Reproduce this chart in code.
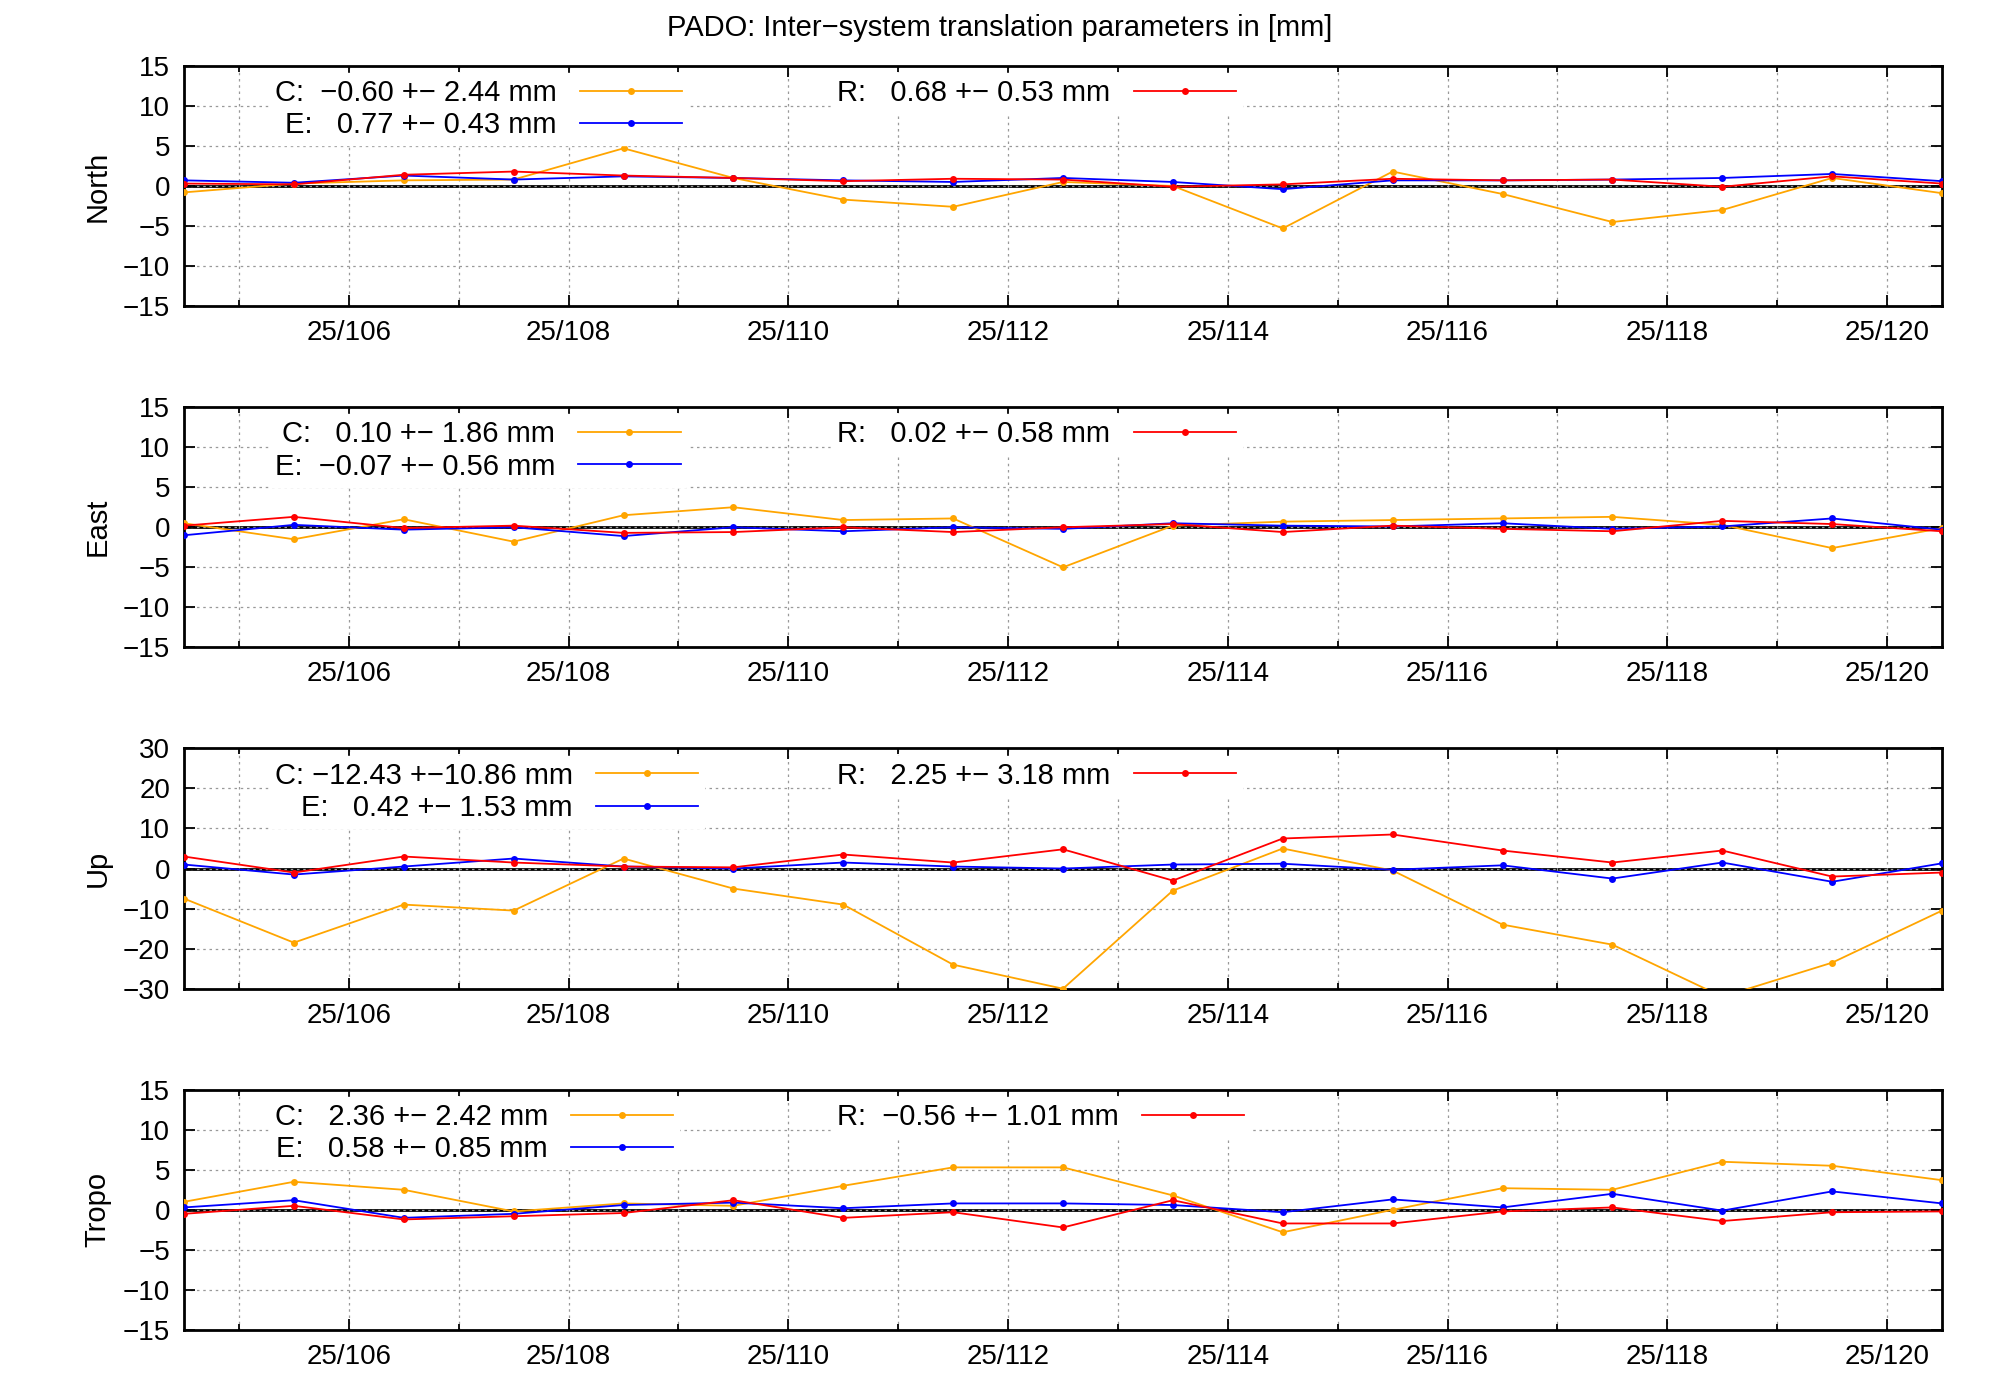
import numpy as np, pandas as pd, seaborn as sns, matplotlib
matplotlib.use("Agg")
import matplotlib.pyplot as plt
from matplotlib.lines import Line2D
from matplotlib.ticker import MultipleLocator

days = [104.5 + i for i in range(17)]
tick_days = [106, 108, 110, 112, 114, 116, 118, 120]
tick_labels = ["25/%d" % d for d in tick_days]

north_C = [-0.8, 0.3, 0.7, 0.8, 4.7, 1.0, -1.7, -2.6, 0.5, 0.0, -5.3, 1.8, -1.0, -4.5, -3.0, 1.0, -0.9]
north_E = [0.7, 0.4, 1.3, 0.8, 1.2, 1.0, 0.7, 0.5, 1.0, 0.5, -0.4, 0.7, 0.7, 0.8, 1.0, 1.5, 0.6]
north_R = [0.3, 0.2, 1.4, 1.8, 1.3, 1.0, 0.6, 0.9, 0.8, -0.1, 0.2, 0.9, 0.7, 0.8, -0.1, 1.2, 0.3]
east_C = [0.5, -1.5, 1.0, -1.8, 1.5, 2.5, 0.9, 1.1, -5.0, 0.2, 0.7, 0.9, 1.1, 1.3, 0.3, -2.6, -0.1]
east_E = [-1.0, 0.3, -0.3, 0.0, -1.1, 0.0, -0.5, 0.0, -0.2, 0.5, 0.2, 0.1, 0.5, -0.2, 0.1, 1.1, -0.3]
east_R = [0.2, 1.3, -0.1, 0.2, -0.7, -0.6, 0.0, -0.6, 0.0, 0.4, -0.6, 0.2, -0.2, -0.5, 0.8, 0.4, -0.5]
up_C = [-7.5, -18.5, -9.0, -10.5, 2.5, -5.0, -9.0, -24.0, -30.0, -5.5, 5.0, -0.5, -14.0, -19.0, -32.0, -23.5, -10.5]
up_E = [1.0, -1.5, 0.5, 2.5, 0.5, 0.0, 1.5, 0.5, 0.0, 1.0, 1.2, -0.3, 0.8, -2.5, 1.5, -3.3, 1.3]
up_R = [3.0, -1.0, 3.0, 1.5, 0.5, 0.3, 3.5, 1.5, 4.8, -3.0, 7.5, 8.5, 4.5, 1.5, 4.5, -2.0, -1.0]
tropo_C = [1.0, 3.5, 2.5, -0.2, 0.8, 0.5, 3.0, 5.3, 5.3, 1.8, -2.8, 0.0, 2.7, 2.5, 6.0, 5.5, 3.7]
tropo_E = [0.3, 1.2, -1.0, -0.5, 0.6, 0.9, 0.2, 0.8, 0.8, 0.6, -0.3, 1.3, 0.3, 2.0, -0.1, 2.3, 0.8]
tropo_R = [-0.5, 0.5, -1.2, -0.8, -0.4, 1.2, -1.0, -0.3, -2.2, 1.2, -1.7, -1.7, -0.2, 0.3, -1.4, -0.3, -0.2]

panels = [
    ("North", north_C, north_E, north_R, 15, 5, ["C:  \u22120.60 +\u2212 2.44 mm", "E:   0.77 +\u2212 0.43 mm", "R:   0.68 +\u2212 0.53 mm"]),
    ("East", east_C, east_E, east_R, 15, 5, ["C:   0.10 +\u2212 1.86 mm", "E:  \u22120.07 +\u2212 0.56 mm", "R:   0.02 +\u2212 0.58 mm"]),
    ("Up", up_C, up_E, up_R, 30, 10, ["C: \u221212.43 +\u221210.86 mm", "E:   0.42 +\u2212 1.53 mm", "R:   2.25 +\u2212 3.18 mm"]),
    ("Tropo", tropo_C, tropo_E, tropo_R, 15, 5, ["C:   2.36 +\u2212 2.42 mm", "E:   0.58 +\u2212 0.85 mm", "R:  \u22120.56 +\u2212 1.01 mm"]),
]
colors = {"C": "#ffa500", "E": "#0000ff", "R": "#ff0000"}

plt.rcParams["font.family"] = "Liberation Sans"
plt.rcParams["font.size"] = 20
fig, axes = plt.subplots(4, 1, figsize=(20, 14), dpi=100)
fig.subplots_adjust(left=0.092, right=0.971, top=0.953, bottom=0.05, hspace=0.42)
fig.suptitle("PADO: Inter\u2212system translation parameters in [mm]", fontsize=21, y=0.99)

for ax, (name, c, e, r, lim, step, labels) in zip(axes, panels):
    df = pd.DataFrame({"day": days * 3, "val": c + e + r, "sys": ["C"] * 17 + ["E"] * 17 + ["R"] * 17})
    ax.axhline(0, color="black", lw=2, zorder=1)
    sns.lineplot(data=df, x="day", y="val", hue="sys", palette=colors, marker="o",
                 markersize=5, markeredgewidth=0, lw=1.3, ax=ax, legend=False, zorder=3)
    ax.set_xlim(104.5, 120.5)
    ax.set_ylim(-lim, lim)
    ax.yaxis.set_major_locator(MultipleLocator(step))
    ax.set_xticks(tick_days)
    ax.set_xticklabels(tick_labels)
    ax.xaxis.set_minor_locator(MultipleLocator(1))
    ax.grid(True, which="both", axis="x", color="#999999", ls=(0, (2, 3)), lw=0.9)
    ax.grid(True, which="major", axis="y", color="#999999", ls=(0, (2, 3)), lw=0.9)
    ax.tick_params(which="both", direction="in", top=True, right=True, length=8, width=1.3, pad=10)
    ax.tick_params(which="minor", length=4)
    ax.set_xlabel("")
    ax.set_ylabel(name, fontsize=21, labelpad=8)
    for s in ax.spines.values():
        s.set_linewidth(2)
    h = lambda k: Line2D([], [], color=colors[k], marker="o", markersize=5, markeredgewidth=0, lw=1.3)
    l1 = ax.legend([h("C"), h("E")], labels[:2], loc="upper left", bbox_to_anchor=(0.04, 1.03),
                   markerfirst=False, frameon=True, fancybox=False, edgecolor="white", framealpha=1,
                   handlelength=3.5, labelspacing=0.15, borderpad=0.2, fontsize=21)
    ax.add_artist(l1)
    ax.legend([h("R")], labels[2:], loc="upper left", bbox_to_anchor=(0.36, 1.03),
              markerfirst=False, frameon=True, fancybox=False, edgecolor="white", framealpha=1,
              handlelength=3.5, borderpad=0.2, fontsize=21)

fig.savefig("out.png", dpi=100)
